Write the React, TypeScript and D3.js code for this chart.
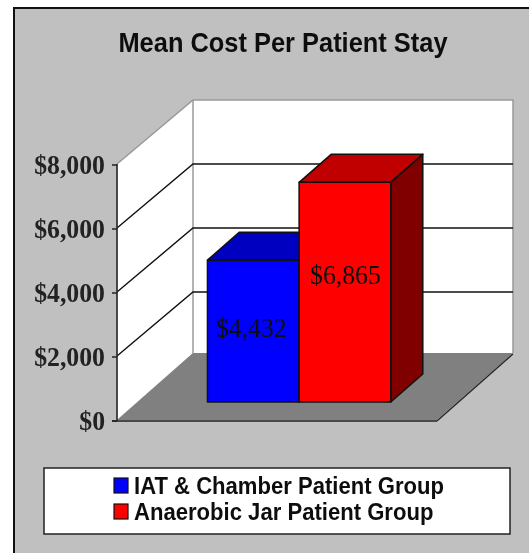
import React from "react";
import * as d3 from "d3";

const title = "Mean Cost Per Patient Stay";
const categories = ["IAT & Chamber Patient Group", "Anaerobic Jar Patient Group"];
const values = [4432, 6865];
const valueLabels = ["$4,432", "$6,865"];
const frontColors = ["#0000ff", "#ff0000"];
const topColors = ["#0000c0", "#c00000"];
const sideColors = ["#000080", "#800000"];
const ticks = [0, 2000, 4000, 6000, 8000];

const W = 529, H = 553;
const yScale = d3.scaleLinear().domain([0, 8000]).range([420, 164]);
const xPlane = d3.scaleLinear().domain([0, 1]).range([117, 437]);
const band = d3.scaleBand<string>().domain(categories).range([xPlane(0.217), xPlane(0.79)]).padding(0);
const DX = 76, DY = 67;
const barOff = { x: 21, y: 18 };
const barDepth = { x: 32, y: 28 };
const fmt = d3.format("$,");
const pts = (p: number[][]) => p.map((q) => q.join(",")).join(" ");
const serif = "'Liberation Serif', serif";
const sans = "'Liberation Sans', sans-serif";

export default function App() {
  const y0 = yScale(0), yT = yScale(8000), xL = xPlane(0), xR = xPlane(1);
  const backTop = yT - 64;
  const backBottom = y0 - DY;
  return (
    <svg width={W} height={H} style={{ position: "absolute", left: 0, top: 0 }}>
      <defs>
        <filter id="soft" x="-5%" y="-20%" width="110%" height="140%">
          <feGaussianBlur stdDeviation="0.5" />
        </filter>
      </defs>
      <rect width={W} height={H} fill="#ffffff" />
      <rect x={14} y={8} width={W} height={H} fill="#c0c0c0" stroke="#111" strokeWidth={2} />
      <text transform="translate(283,52) scale(0.925,1)" textAnchor="middle" fontFamily={sans} fontWeight="bold" fontSize={27.5} fill="#111" filter="url(#soft)">{title}</text>

      <polygon points={pts([[xL, yT], [xL + DX, backTop], [xL + DX, backBottom], [xL, y0]])} fill="#fff" />
      <rect x={xL + DX} y={backTop} width={xR - xL} height={backBottom - backTop} fill="#fff" />
      <polyline points={pts([[xL, yT], [xL + DX, backTop], [xR + DX, backTop], [xR + DX, backBottom]])} fill="none" stroke="#999" strokeWidth={1.5} />
      <line x1={xL + DX} x2={xL + DX} y1={backTop} y2={backBottom} stroke="#999" strokeWidth={1.5} />
      <polygon points={pts([[xL, y0], [xL + DX, backBottom], [xR + DX, backBottom], [xR, y0]])} fill="#808080" />
      <line x1={xR} y1={y0 + 1} x2={xR + DX} y2={backBottom + 1} stroke="#222" strokeWidth={1.2} />

      {ticks.map((t) => (
        <g key={t}>
          {t > 0 && t < 8000 && (
            <polyline points={pts([[xL, yScale(t)], [xL + DX, yScale(t) - 64], [xR + DX, yScale(t) - 64]])} fill="none" stroke="#111" strokeWidth={1.4} />
          )}
          <line x1={xL - 5} x2={xL} y1={yScale(t) + 1} y2={yScale(t) + 1} stroke="#222" strokeWidth={1.5} />
          <text transform={`translate(105,${yScale(t) + 9.5}) scale(0.92,1)`} textAnchor="end" fontFamily={serif} fontWeight="bold" fontSize={28} fill="#222" filter="url(#soft)">{fmt(t)}</text>
        </g>
      ))}
      <line x1={xL} x2={xL} y1={yT} y2={y0 + 1} stroke="#222" strokeWidth={1.6} />
      <line x1={xL - 5} x2={xR} y1={y0 + 1} y2={y0 + 1} stroke="#222" strokeWidth={1.6} />

      {categories.map((c, i) => {
        const x0 = band(c)! + barOff.x;
        const x1 = x0 + band.bandwidth();
        const b = y0 - barOff.y;
        const t = yScale(values[i]) - barOff.y;
        const d = barDepth;
        return (
          <g key={c} stroke="#111" strokeWidth={1.5} strokeLinejoin="round">
            <polygon points={pts([[x0, t], [x0 + d.x, t - d.y], [x1 + d.x, t - d.y], [x1, t]])} fill={topColors[i]} />
            <polygon points={pts([[x1, t], [x1 + d.x, t - d.y], [x1 + d.x, b - d.y], [x1, b]])} fill={sideColors[i]} />
            <rect x={x0} y={t} width={x1 - x0} height={b - t} fill={frontColors[i]} />
          </g>
        );
      })}
      {categories.map((c, i) => {
        const x0 = band(c)! + barOff.x;
        const lx = x0 + band.bandwidth() / 2 + [-2, 0.5][i];
        const ly = yScale(values[i]) - barOff.y + [76.5, 102][i];
        return (
          <text key={c} transform={`translate(${lx},${ly}) scale(0.92,1)`} textAnchor="middle" fontFamily={serif} fontSize={28} fill="#111" filter="url(#soft)">{valueLabels[i]}</text>
        );
      })}

      <rect x={44} y={468} width={466} height={66} fill="#fff" stroke="#222" strokeWidth={1.5} />
      {categories.map((c, i) => (
        <g key={c}>
          <rect x={114} y={478 + i * 26} width={14} height={15} fill={frontColors[i]} stroke="#111" strokeWidth={1.2} />
          <text transform={`translate(134,${493.5 + i * 26}) scale(0.94,1)`} fontFamily={sans} fontWeight="bold" fontSize={23.5} fill="#111" filter="url(#soft)">{c}</text>
        </g>
      ))}
    </svg>
  );
}
